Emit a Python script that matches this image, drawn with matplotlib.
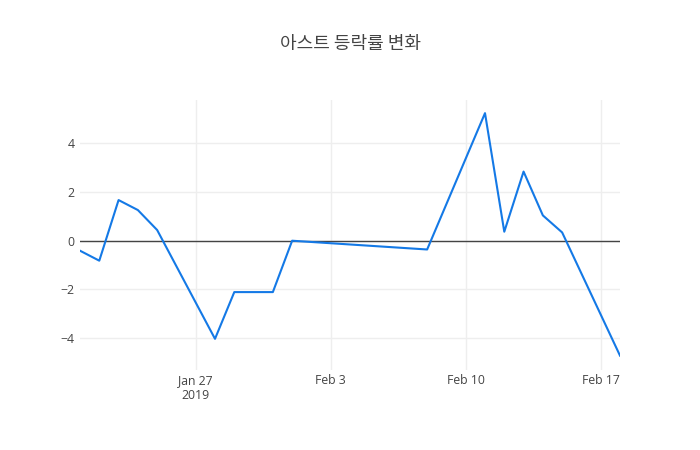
import matplotlib
matplotlib.use("Agg")
import matplotlib.pyplot as plt
import numpy as np

# daily change rate (%)
dates = ["2019-01-21", "2019-01-22", "2019-01-23", "2019-01-24", "2019-01-25",
         "2019-01-28", "2019-01-29", "2019-01-31", "2019-02-01", "2019-02-08",
         "2019-02-11", "2019-02-12", "2019-02-13", "2019-02-14", "2019-02-15",
         "2019-02-18"]
changes = [-0.41, -0.82, 1.67, 1.26, 0.44,
           -4.03, -2.11, -2.11, 0.0, -0.36,
           5.24, 0.37, 2.84, 1.04, 0.34,
           -4.72]
title = "아스트 등락률 변화"
tick_dates = ["2019-01-27", "2019-02-03", "2019-02-10", "2019-02-17"]
tick_labels = ["Jan 27\n2019", "Feb 3", "Feb 10", "Feb 17"]
yticks = [-4, -2, 0, 2, 4]

x = np.array(dates, dtype="datetime64[D]")
xt = np.array(tick_dates, dtype="datetime64[D]")

plt.rcParams["font.family"] = ["Open Sans", "Noto Sans CJK KR", "DejaVu Sans"]

fig = plt.figure(figsize=(7, 4.5), dpi=100)
ax = fig.add_axes([80 / 700, 80 / 450, 540 / 700, 270 / 450])

# grid and zero line
ax.grid(True, color="#eeeeee", linewidth=1)
ax.set_axisbelow(True)
ax.axhline(0, color="#444444", linewidth=1, zorder=2)

ax.plot(x, changes, color="#1479e6", linewidth=1.5, zorder=3)

ax.set_xlim(x[0], x[-1])
ax.set_ylim(-5.31, 5.78)
ax.set_xticks(xt)
ax.set_xticklabels(tick_labels)
ax.set_yticks(yticks)
ax.set_yticklabels([str(v).replace("-", "\u2212") for v in yticks])

for s in ax.spines.values():
    s.set_visible(False)
ax.tick_params(length=0, labelsize=8.8, labelcolor="#444444")
ax.tick_params(axis="x", pad=3)
ax.tick_params(axis="y", pad=4)

fig.text(0.5, 1 - 44 / 450, title, ha="center", va="center", fontsize=13,
         color="#444444", family=["Noto Sans CJK KR", "DejaVu Sans"])

fig.savefig("out.png", dpi=100, facecolor="white")
